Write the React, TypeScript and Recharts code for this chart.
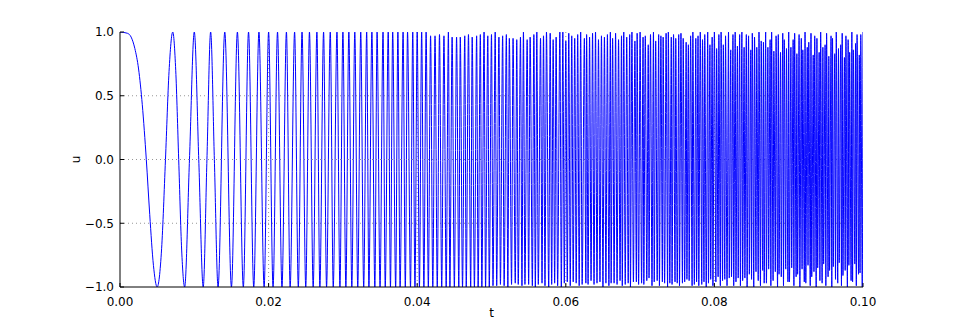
import React from "react";
import { LineChart, Line, XAxis, YAxis, CartesianGrid, Label } from "recharts";

// Times (s) of successive turning points of the chirp
const extremaT = [
  0.0000, 0.0050, 0.0071, 0.0087, 0.0100, 0.0112, 0.0122, 0.0132, 0.0141, 0.0150,
  0.0158, 0.0166, 0.0173, 0.0180, 0.0187, 0.0194, 0.0200, 0.0206, 0.0212, 0.0218,
  0.0224, 0.0229, 0.0235, 0.0240, 0.0245, 0.0250, 0.0255, 0.0260, 0.0265, 0.0269,
  0.0274, 0.0278, 0.0283, 0.0287, 0.0292, 0.0296, 0.0300, 0.0304, 0.0308, 0.0312,
  0.0316, 0.0320, 0.0324, 0.0328, 0.0332, 0.0335, 0.0339, 0.0343, 0.0346, 0.0350,
  0.0354, 0.0357, 0.0361, 0.0364, 0.0367, 0.0371, 0.0374, 0.0377, 0.0381, 0.0384,
  0.0387, 0.0391, 0.0394, 0.0397, 0.0400, 0.0403, 0.0406, 0.0409, 0.0412, 0.0415,
  0.0418, 0.0421, 0.0424, 0.0427, 0.0430, 0.0433, 0.0436, 0.0439, 0.0442, 0.0444,
  0.0447, 0.0450, 0.0453, 0.0456, 0.0458, 0.0461, 0.0464, 0.0466, 0.0469, 0.0472,
  0.0474, 0.0477, 0.0480, 0.0482, 0.0485, 0.0487, 0.0490, 0.0492, 0.0495, 0.0497,
  0.0500, 0.0502, 0.0505, 0.0507, 0.0510, 0.0512, 0.0515, 0.0517, 0.0520, 0.0522,
  0.0524, 0.0527, 0.0529, 0.0532, 0.0534, 0.0536, 0.0539, 0.0541, 0.0543, 0.0545,
  0.0548, 0.0550, 0.0552, 0.0555, 0.0557, 0.0559, 0.0561, 0.0563, 0.0566, 0.0568,
  0.0570, 0.0572, 0.0574, 0.0577, 0.0579, 0.0581, 0.0583, 0.0585, 0.0587, 0.0589,
  0.0592, 0.0594, 0.0596, 0.0598, 0.0600, 0.0602, 0.0604, 0.0606, 0.0608, 0.0610,
  0.0612, 0.0614, 0.0616, 0.0618, 0.0620, 0.0622, 0.0625, 0.0627, 0.0628, 0.0630,
  0.0632, 0.0634, 0.0636, 0.0638, 0.0640, 0.0642, 0.0644, 0.0646, 0.0648, 0.0650,
  0.0652, 0.0654, 0.0656, 0.0658, 0.0660, 0.0661, 0.0663, 0.0665, 0.0667, 0.0669,
  0.0671, 0.0673, 0.0675, 0.0676, 0.0678, 0.0680, 0.0682, 0.0684, 0.0686, 0.0687,
  0.0689, 0.0691, 0.0693, 0.0695, 0.0696, 0.0698, 0.0700, 0.0702, 0.0704, 0.0705,
  0.0707, 0.0709, 0.0711, 0.0712, 0.0714, 0.0716, 0.0718, 0.0719, 0.0721, 0.0723,
  0.0725, 0.0726, 0.0728, 0.0730, 0.0731, 0.0733, 0.0735, 0.0737, 0.0738, 0.0740,
  0.0742, 0.0743, 0.0745, 0.0747, 0.0748, 0.0750, 0.0752, 0.0753, 0.0755, 0.0757,
  0.0758, 0.0760, 0.0762, 0.0763, 0.0765, 0.0766, 0.0768, 0.0770, 0.0771, 0.0773,
  0.0775, 0.0776, 0.0778, 0.0779, 0.0781, 0.0783, 0.0784, 0.0786, 0.0787, 0.0789,
  0.0791, 0.0792, 0.0794, 0.0795, 0.0797, 0.0798, 0.0800, 0.0802, 0.0803, 0.0805,
  0.0806, 0.0808, 0.0809, 0.0811, 0.0812, 0.0814, 0.0815, 0.0817, 0.0819, 0.0820,
  0.0822, 0.0823, 0.0825, 0.0826, 0.0828, 0.0829, 0.0831, 0.0832, 0.0834, 0.0835,
  0.0837, 0.0838, 0.0840, 0.0841, 0.0843, 0.0844, 0.0846, 0.0847, 0.0849, 0.0850,
  0.0851, 0.0853, 0.0854, 0.0856, 0.0857, 0.0859, 0.0860, 0.0862, 0.0863, 0.0865,
  0.0866, 0.0867, 0.0869, 0.0870, 0.0872, 0.0873, 0.0875, 0.0876, 0.0877, 0.0879,
  0.0880, 0.0882, 0.0883, 0.0885, 0.0886, 0.0887, 0.0889, 0.0890, 0.0892, 0.0893,
  0.0894, 0.0896, 0.0897, 0.0899, 0.0900, 0.0901, 0.0903, 0.0904, 0.0906, 0.0907,
  0.0908, 0.0910, 0.0911, 0.0912, 0.0914, 0.0915, 0.0917, 0.0918, 0.0919, 0.0921,
  0.0922, 0.0923, 0.0925, 0.0926, 0.0927, 0.0929, 0.0930, 0.0931, 0.0933, 0.0934,
  0.0935, 0.0937, 0.0938, 0.0939, 0.0941, 0.0942, 0.0943, 0.0945, 0.0946, 0.0947,
  0.0949, 0.0950, 0.0951, 0.0953, 0.0954, 0.0955, 0.0957, 0.0958, 0.0959, 0.0960,
  0.0962, 0.0963, 0.0964, 0.0966, 0.0967, 0.0968, 0.0970, 0.0971, 0.0972, 0.0973,
  0.0975, 0.0976, 0.0977, 0.0979, 0.0980, 0.0981, 0.0982, 0.0984, 0.0985, 0.0986,
  0.0987, 0.0989, 0.0990, 0.0991, 0.0992, 0.0994, 0.0995, 0.0996, 0.0997, 0.0999,
  0.1000,
];

// Value of u at each turning point (peaks / troughs as drawn)
const extremaU = [
  1, -1, 1, -1, 1, -1, 1, -1, 1, -1,
  1, -1, 1, -1, 1, -1, 1, -1, 1, -1,
  1, -1, 1, -1, 1, -1, 1, -1, 1, -1,
  1, -1, 1, -1, 1, -1, 1, -1, 1, -1,
  1, -1, 1, -1, 1, -1, 1, -1, 1, -1,
  1, -1, 1, -1, 1, -1, 1, -1, 1, -1,
  1, -1, 1, -1, 1, -1, 1, -1, 1, -1,
  0.97, -1, 0.97, -1, 0.98, -1, 0.97, -1, 1, -1,
  0.96, -1, 0.96, -1, 0.96, -1, 0.97, -1, 0.98, -1,
  0.96, -1, 0.97, -1, 0.98, -1, 1, -1, 0.97, -1,
  0.98, -0.99, 1, -0.99, 0.96, -0.98, 0.97, -0.99, 0.98, -1,
  0.95, -0.98, 0.95, -0.97, 0.94, -0.98, 0.96, -0.99, 1, -0.98,
  0.94, -0.98, 0.96, -0.99, 0.98, -1, 1, -0.98, 0.95, -0.97,
  0.97, -0.99, 1, -1, 0.99, -0.98, 0.94, -0.97, 0.96, -0.99,
  1, -1, 1, -0.97, 0.93, -0.96, 0.99, -0.99, 0.97, -0.96,
  0.95, -0.97, 0.98, -0.99, 1, -0.98, 0.95, -0.97, 0.98, -0.98,
  0.96, -0.95, 0.99, -0.98, 1, -0.97, 0.94, -0.96, 0.97, -1,
  0.96, -0.97, 0.98, -0.99, 1, -0.97, 0.95, -0.97, 0.99, -0.98,
  0.94, -0.95, 0.97, -0.99, 1, -0.98, 0.96, -0.97, 0.98, -1,
  1, -0.96, 0.93, -0.96, 0.99, -0.98, 1, -0.97, 0.96, -0.98,
  0.97, -0.95, 0.9, -0.93, 0.98, -0.99, 1, -0.96, 0.93, -0.95,
  0.98, -0.99, 0.97, -0.96, 0.96, -0.97, 0.99, -1, 1, -0.97,
  0.96, -0.98, 0.98, -0.96, 0.95, -0.97, 0.98, -0.99, 0.99, -0.97,
  0.95, -0.96, 0.92, -0.94, 0.9, -0.95, 0.97, -0.99, 1, -0.98,
  0.95, -0.96, 0.97, -0.99, 1, -0.98, 0.94, -0.96, 0.98, -1,
  1, -0.97, 0.9, -0.94, 0.96, -0.99, 1, -0.96, 0.87, -0.92,
  0.98, -0.99, 1, -0.95, 0.9, -0.94, 0.97, -0.99, 1, -0.93,
  0.86, -0.92, 0.98, -0.99, 1, -0.96, 0.89, -0.93, 0.98, -0.99,
  1, -0.95, 0.88, -0.93, 0.98, -1, 0.97, -0.9, 0.86, -0.94,
  0.99, -1, 0.96, -0.88, 0.88, -0.95, 1, -0.99, 0.93, -0.87,
  0.92, -0.97, 1, -0.97, 0.88, -0.86, 0.94, -0.99, 1, -0.95,
  0.85, -0.88, 0.97, -1, 0.98, -0.9, 0.84, -0.92, 0.99, -0.99,
  0.94, -0.86, 0.87, -0.96, 1, -0.96, 0.88, -0.85, 0.94, -0.99,
  0.99, -0.92, 0.83, -0.9, 0.98, -1, 0.95, -0.86, 0.86, -0.96,
  1, -0.97, 0.88, -0.83, 0.92, -0.99, 0.99, -0.92, 0.82, -0.88,
  0.97, -1, 0.95, -0.85, 0.84, -0.95, 1, -0.97, 0.88, -0.82,
  0.9, -0.99, 0.99, -0.92, 0.81, -0.87, 0.97, -1, 0.95, -0.84,
  0.83, -0.94, 1, -0.97, 0.87, -0.81, 0.9, -0.99, 0.99, -0.91,
  0.8, -0.87, 0.97, -1, 0.94, -0.83, 0.84, -0.95, 1, -0.96,
  0.86, -0.82, 0.91, -0.99, 0.98, -0.9, 0.82, -0.89, 0.98, -1,
  1,
];

// Extra points read along the first slow swings (shape between turning points)
const earlyT = [
  0.0010, 0.0015, 0.0020, 0.0025, 0.0030, 0.00354, 0.0040, 0.0045,
  0.0056, 0.00612, 0.0066, 0.0075, 0.0079, 0.0083, 0.00935, 0.0106, 0.0117, 0.0127,
];
const earlyU = [
  0.99, 0.96, 0.87, 0.71, 0.43, 0, -0.43, -0.83,
  -0.7, 0, 0.69, 0.7, 0, -0.71, 0, 0, 0, 0,
];

const xTicks = [0, 0.02, 0.04, 0.06, 0.08, 0.1];
const yTicks = [-1, -0.5, 0, 0.5, 1];

const data = [
  ...extremaT.map((t, i) => ({ t, u: extremaU[i] })),
  ...earlyT.map((t, i) => ({ t, u: earlyU[i] })),
].sort((a, b) => a.t - b.t);

const FONT = "DejaVu Sans, sans-serif";
const minus = (s: string) => s.replace("-", "\u2212");

export default function App() {
  return (
    <div style={{ position: "absolute", left: 0, top: 0, width: 960, height: 320, background: "#fff" }}>
      <LineChart
        width={960}
        height={320}
        data={data}
        margin={{ top: 32, right: 97, bottom: 3, left: 60 }}
      >
        <CartesianGrid
          stroke="#000"
          strokeWidth={0.6}
          strokeDasharray="1 3"
          strokeOpacity={0.7}
          horizontalValues={[-0.5, 0, 0.5]}
          verticalValues={[0.02, 0.04, 0.06, 0.08]}
        />
        <XAxis
          dataKey="t"
          type="number"
          domain={[0, 0.1]}
          ticks={xTicks}
          allowDataOverflow
          height={30}
          stroke="#000"
          tickSize={-4}
          tickMargin={14}
          tick={{ fill: "#000", fontSize: 12, fontFamily: FONT }}
          tickFormatter={(v: number) => v.toFixed(2)}
        >
          <Label value="t" position="insideBottom" offset={0} style={{ fill: "#000", fontSize: 12, fontFamily: FONT }} />
        </XAxis>
        <XAxis
          xAxisId="top"
          orientation="top"
          dataKey="t"
          type="number"
          domain={[0, 0.1]}
          ticks={xTicks}
          height={0}
          stroke="#000"
          tickSize={-4}
          tick={false}
        />
        <YAxis
          type="number"
          domain={[-1, 1]}
          ticks={yTicks}
          allowDataOverflow
          width={60}
          stroke="#000"
          tickSize={-4}
          tickMargin={10}
          tick={{ fill: "#000", fontSize: 12, fontFamily: FONT }}
          tickFormatter={(v: number) => minus(v.toFixed(1))}
        >
          <Label value="u" angle={-90} position="insideLeft" offset={16} style={{ fill: "#000", fontSize: 12, fontFamily: FONT, textAnchor: "middle" }} />
        </YAxis>
        <YAxis
          yAxisId="right"
          orientation="right"
          type="number"
          domain={[-1, 1]}
          ticks={yTicks}
          width={0}
          stroke="#000"
          tickSize={-4}
          tick={false}
        />
        <Line
          type="monotone"
          dataKey="u"
          stroke="#0000ff"
          strokeWidth={1}
          dot={false}
          isAnimationActive={false}
        />
      </LineChart>
    </div>
  );
}
